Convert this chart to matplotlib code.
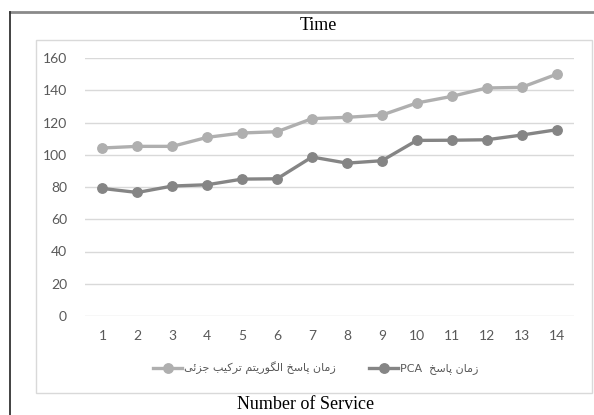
import matplotlib
matplotlib.use('Agg')
import matplotlib.pyplot as plt
from matplotlib.lines import Line2D
from matplotlib.patches import Rectangle

# data
services = list(range(1, 15))
partial_combo = [104.2, 105.2, 105.2, 110.8, 113.5, 114.3, 122.4, 123.2, 124.6, 132.1, 136.2, 141.4, 141.8, 149.9]
pca = [79.1, 76.6, 80.6, 81.4, 84.9, 85.1, 98.6, 94.8, 96.3, 108.9, 109.0, 109.3, 112.2, 115.5]
y_ticks = [0, 20, 40, 60, 80, 100, 120, 140, 160]

# Persian legend labels, pre-shaped (presentation forms, visual order)
zaman = '\ufee5\ufe8e\ufee3\ufeaf'
pasokh = '\ufea6\ufeb3\ufe8e\ufb58'
algorithm = '\ufee2\ufe98\ufbfe\ufead\ufeee\ufb95\ufedf\ufe8d'
tarkib = '\ufe90\ufbff\ufb90\ufeae\ufe97'
jozei = '\ufbfd\ufe8b\ufeb0\ufe9f'
label_partial = ' '.join([jozei, tarkib, algorithm, pasokh, zaman])
label_pca = 'PCA  ' + pasokh + ' ' + zaman

light = '#afafaf'
dark = '#858585'
grid_c = '#d9d9d9'
text_c = '#595959'

W, H = 594, 415
fig = plt.figure(figsize=(W / 100, H / 100), dpi=100)

# outer frame (top and left edges only) and chart box
fig.add_artist(Line2D([10 / W, 1], [1 - 12 / H, 1 - 12 / H], color='#8a8a8a', lw=2.0))
fig.add_artist(Line2D([10 / W, 10 / W], [0, 1 - 12 / H], color='#333333', lw=1.3))
fig.add_artist(Rectangle((36 / W, 1 - 393 / H), (592 - 36) / W, (393 - 40) / H,
                         fill=False, edgecolor=grid_c, lw=1.0))

ax = fig.add_axes([85 / W, 1 - 316 / H, (574 - 85) / W, (316 - 58) / H])
ax.plot(services, partial_combo, color=light, lw=2.4, marker='o', markersize=6.8, zorder=3)
ax.plot(services, pca, color=dark, lw=2.4, marker='o', markersize=6.8, zorder=3)

ax.set_xlim(0.5, 14.5)
ax.set_ylim(0, 160)
ax.set_yticks(y_ticks)
ax.set_xticks(services)
ax.grid(axis='y', color=grid_c, lw=1.0)
ax.set_axisbelow(True)
for s in ax.spines.values():
    s.set_visible(False)
ax.tick_params(length=0, labelsize=10, labelcolor=text_c)
ax.tick_params(axis='x', pad=10)
ax.tick_params(axis='y', pad=13)
for lab in ax.get_xticklabels() + ax.get_yticklabels():
    lab.set_family('Lato')

fig.text(318 / W, 1 - 26 / H, 'Time', family='Liberation Serif', fontsize=13,
         ha='center', va='center', color='black')
fig.text(306 / W, 1 - 404 / H, 'Number of Service', family='Liberation Serif', fontsize=13,
         ha='center', va='center', color='black')

handles = [Line2D([], [], color=light, lw=2.4, marker='o', markersize=6.8),
           Line2D([], [], color=dark, lw=2.4, marker='o', markersize=6.8)]
leg = fig.legend(handles, [label_partial, label_pca], loc='center',
                 bbox_to_anchor=(316 / W, 1 - 368 / H), ncol=2, frameon=False,
                 prop={'family': 'DejaVu Sans', 'size': 8}, handlelength=2.6,
                 handletextpad=0.2, columnspacing=3.0)
for t in leg.get_texts():
    t.set_color(text_c)

fig.savefig('out.png', dpi=100)
